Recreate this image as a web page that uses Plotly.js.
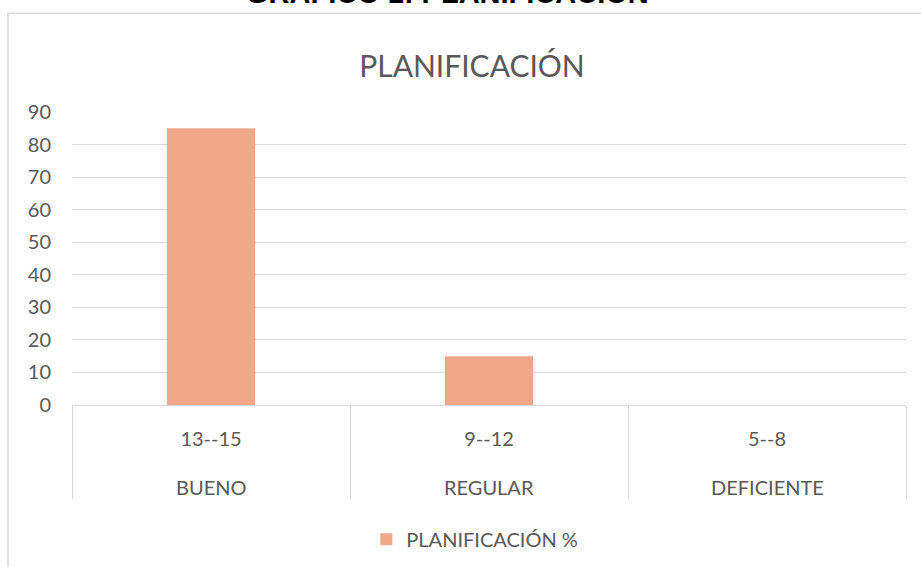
<!DOCTYPE html>
<html>
<head>
<meta charset="utf-8">
<script src="https://cdn.plot.ly/plotly-3.0.1.min.js"></script>
<style>html,body{margin:0;padding:0;background:#fff;}#chart{width:921px;height:567px;}</style>
</head>
<body>
<div id="chart"></div>
<script>
// Data
const ranges = ["13--15", "9--12", "5--8"];
const levels = ["BUENO", "REGULAR", "DEFICIENTE"];
const values = [85, 15, 0];
const seriesName = "PLANIFICACIÓN %";
const chartTitle = "PLANIFICACIÓN";
const figureCaption = "GRÁFICO 1: PLANIFICACIÓN";
const yTicks = [0, 10, 20, 30, 40, 50, 60, 70, 80, 90];

const textColor = "#595959";
const gridColor = "#d9d9d9";
const font = "Lato, 'Open Sans', sans-serif";

const trace = {
  type: "bar",
  x: ranges,
  y: values,
  name: seriesName,
  marker: {color: "#F1A88A"},
  showlegend: true,
  hoverinfo: "none"
};

const annotations = levels.map((lv, i) => ({
  text: lv, xref: "x", yref: "paper", x: ranges[i], y: -0.281,
  xanchor: "center", yanchor: "middle", showarrow: false,
  font: {family: font, size: 20, color: textColor}
}));
annotations.push({
  text: "<b>" + figureCaption + "</b>", xref: "paper", yref: "paper",
  x: 0.45, y: 1.344, xanchor: "center", yanchor: "bottom", showarrow: false,
  font: {family: "'Liberation Sans', Arial, sans-serif", size: 29, color: "#000"}
});

const layout = {
  width: 921, height: 567,
  margin: {l: 72, r: 15, t: 112, b: 161.5, autoexpand: false},
  paper_bgcolor: "#fff", plot_bgcolor: "#fff",
  font: {family: font, color: textColor},
  title: {
    text: chartTitle, xref: "container", yref: "container",
    x: 0.5125, y: 0.883, xanchor: "center", yanchor: "middle",
    font: {family: font, size: 30, color: textColor}
  },
  bargap: 0.683,
  xaxis: {
    type: "category",
    automargin: false,
    showgrid: false,
    showline: true, linecolor: gridColor, linewidth: 1,
    ticks: "outside", tickson: "boundaries", ticklen: 93,
    tickcolor: gridColor, tickwidth: 1,
    ticklabelstandoff: 16,
    tickfont: {family: font, size: 20, color: textColor},
    fixedrange: true
  },
  yaxis: {
    range: [0, 90],
    automargin: false,
    tickvals: yTicks,
    showgrid: true, gridcolor: gridColor, gridwidth: 1,
    zeroline: false, showline: false, ticks: "",
    ticklabelstandoff: 20,
    tickfont: {family: font, size: 20, color: textColor},
    fixedrange: true
  },
  legend: {
    orientation: "h", x: 0.483, xanchor: "center", y: -0.458, yanchor: "middle",
    font: {family: font, size: 20, color: textColor},
    itemclick: false
  },
  annotations: annotations,
  shapes: [{
    type: "rect", xref: "paper", yref: "paper",
    x0: -0.0767, x1: 1.2, y0: -1, y1: 1.337,
    line: {color: gridColor, width: 1.5}, fillcolor: "rgba(0,0,0,0)", layer: "below"
  }]
};

Plotly.newPlot("chart", [trace], layout, {displayModeBar: false, staticPlot: true});
</script>
</body>
</html>
